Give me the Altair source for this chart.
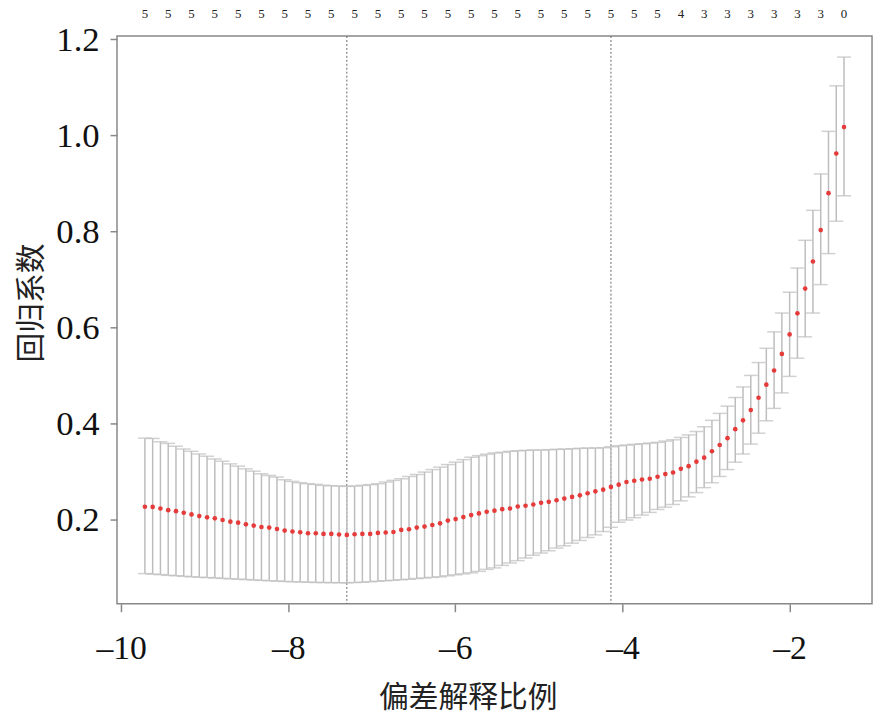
import altair as alt
import pandas as pd

# log(lambda) positions of the 91 fits
log_lambda = [
    -9.716, -9.623, -9.530, -9.437, -9.344, -9.251, -9.158, -9.065, -8.972, -8.879,
    -8.786, -8.693, -8.600, -8.507, -8.414, -8.321, -8.228, -8.135, -8.043, -7.950,
    -7.857, -7.764, -7.671, -7.578, -7.485, -7.392, -7.299, -7.206, -7.113, -7.020,
    -6.927, -6.834, -6.741, -6.648, -6.555, -6.462, -6.369, -6.276, -6.183, -6.090,
    -5.997, -5.904, -5.811, -5.718, -5.625, -5.532, -5.439, -5.346, -5.253, -5.160,
    -5.067, -4.974, -4.882, -4.789, -4.696, -4.603, -4.510, -4.417, -4.324, -4.231,
    -4.138, -4.045, -3.952, -3.859, -3.766, -3.673, -3.580, -3.487, -3.394, -3.301,
    -3.208, -3.115, -3.022, -2.929, -2.836, -2.743, -2.650, -2.557, -2.464, -2.371,
    -2.278, -2.185, -2.092, -1.999, -1.906, -1.813, -1.720, -1.627, -1.534, -1.441,
    -1.348,
]

mean_val = [
    0.2272, 0.2270, 0.2237, 0.2202, 0.2181, 0.2148, 0.2113, 0.2078, 0.2052, 0.2031,
    0.1996, 0.1963, 0.1942, 0.1907, 0.1880, 0.1852, 0.1839, 0.1810, 0.1777, 0.1757,
    0.1742, 0.1722, 0.1722, 0.1707, 0.1707, 0.1695, 0.1687, 0.1701, 0.1707, 0.1707,
    0.1728, 0.1736, 0.1748, 0.1790, 0.1804, 0.1839, 0.1860, 0.1893, 0.1928, 0.1984,
    0.2016, 0.2058, 0.2099, 0.2134, 0.2169, 0.2192, 0.2223, 0.2237, 0.2278, 0.2293,
    0.2320, 0.2355, 0.2375, 0.2408, 0.2443, 0.2478, 0.2511, 0.2553, 0.2594, 0.2629,
    0.2685, 0.2732, 0.2788, 0.2814, 0.2841, 0.2856, 0.2897, 0.2953, 0.2986, 0.3062,
    0.3118, 0.3212, 0.3295, 0.3427, 0.3557, 0.3701, 0.3887, 0.4072, 0.4285, 0.4542,
    0.4814, 0.5109, 0.5454, 0.5860, 0.6299, 0.6814, 0.7377, 0.8031, 0.8800, 0.9625,
    1.0175,
]

upper_val = [
    0.3701, 0.3695, 0.3625, 0.3592, 0.3530, 0.3474, 0.3427, 0.3371, 0.3324, 0.3268,
    0.3221, 0.3165, 0.3118, 0.3062, 0.3014, 0.2959, 0.2924, 0.2891, 0.2835, 0.2800,
    0.2773, 0.2753, 0.2738, 0.2718, 0.2711, 0.2705, 0.2697, 0.2705, 0.2718, 0.2732,
    0.2753, 0.2788, 0.2821, 0.2856, 0.2903, 0.2944, 0.2994, 0.3047, 0.3097, 0.3151,
    0.3200, 0.3254, 0.3303, 0.3336, 0.3367, 0.3392, 0.3406, 0.3427, 0.3439, 0.3447,
    0.3454, 0.3454, 0.3460, 0.3468, 0.3474, 0.3480, 0.3489, 0.3495, 0.3495, 0.3501,
    0.3522, 0.3542, 0.3557, 0.3571, 0.3584, 0.3598, 0.3612, 0.3639, 0.3666, 0.3715,
    0.3769, 0.3839, 0.3938, 0.4072, 0.4216, 0.4367, 0.4546, 0.4767, 0.5006, 0.5274,
    0.5571, 0.5913, 0.6305, 0.6738, 0.7241, 0.7819, 0.8443, 0.9200, 1.0087, 1.1035,
    1.1633,
]

lower_val = [
    0.0882, 0.0870, 0.0860, 0.0845, 0.0835, 0.0825, 0.0814, 0.0804, 0.0798, 0.0790,
    0.0781, 0.0773, 0.0765, 0.0757, 0.0748, 0.0740, 0.0732, 0.0726, 0.0718, 0.0711,
    0.0705, 0.0701, 0.0697, 0.0695, 0.0693, 0.0691, 0.0691, 0.0695, 0.0701, 0.0711,
    0.0722, 0.0732, 0.0742, 0.0753, 0.0763, 0.0779, 0.0790, 0.0802, 0.0814, 0.0835,
    0.0856, 0.0876, 0.0897, 0.0928, 0.0969, 0.1000, 0.1052, 0.1103, 0.1151, 0.1206,
    0.1262, 0.1309, 0.1357, 0.1412, 0.1460, 0.1515, 0.1571, 0.1633, 0.1687, 0.1757,
    0.1845, 0.1948, 0.1996, 0.2045, 0.2099, 0.2155, 0.2216, 0.2264, 0.2320, 0.2396,
    0.2478, 0.2567, 0.2670, 0.2773, 0.2903, 0.3047, 0.3200, 0.3371, 0.3577, 0.3804,
    0.4062, 0.4320, 0.4643, 0.4986, 0.5365, 0.5810, 0.6305, 0.6897, 0.7542, 0.8216,
    0.8746,
]

# number of non-zero coefficients, shown at every third fit
nonzero_counts = [5] * 23 + [4] + [3] * 6 + [0]

# lambda.min and lambda.1se
vlines = [-7.299, -4.138]

x_ticks = [-10, -8, -6, -4, -2]
y_ticks = [0.2, 0.4, 0.6, 0.8, 1.0, 1.2]

df = pd.DataFrame({"x": log_lambda, "m": mean_val, "lo": lower_val, "hi": upper_val})
df_top = pd.DataFrame({"x": log_lambda[::3], "n": [str(v) for v in nonzero_counts]})
df_v = pd.DataFrame({"x": vlines})

SERIF = "Liberation Serif"
CJK = "Noto Sans CJK SC"
GRAY = "#bdbdbd"

xs = alt.Scale(domain=[-10.05, -1.013], nice=False, zero=False)
ys = alt.Scale(domain=[0.0253, 1.2071], nice=False, zero=False)

x_axis = alt.Axis(
    values=x_ticks, title="偏差解释比例", grid=False, domain=False, format="d",
    tickSize=8, tickColor="#888888", tickWidth=1.5,
    labelFont=SERIF, labelFontSize=34, labelColor="#111111", labelPadding=20,
    labelExpr="replace(datum.label, '−', '–')",
    titleFont=CJK, titleFontSize=30, titleFontWeight="normal", titleColor="#222222",
    titleX=354, titleY=95, titleBaseline="middle", titleAlign="center",
)
y_axis = alt.Axis(
    values=y_ticks, title="回归系数", grid=False, domain=False, format=".1f",
    tickSize=7, tickColor="#888888", tickWidth=1.5,
    labelFont=SERIF, labelFontSize=35, labelColor="#111111", labelPadding=11,
    labelBaseline="middle",
    titleFont=CJK, titleFontSize=30, titleFontWeight="normal", titleColor="#222222",
    titleX=-86, titleY=269, titleBaseline="middle", titleAlign="center",
)

base = alt.Chart(df)

bars = base.mark_rule(color=GRAY, strokeWidth=1.5).encode(
    x=alt.X("x:Q", scale=xs, axis=x_axis),
    y=alt.Y("lo:Q", scale=ys, axis=y_axis),
    y2="hi:Q",
)
cap_hi = base.mark_tick(color=GRAY, orient="horizontal", size=14, thickness=1.5).encode(
    x=alt.X("x:Q", scale=xs), y=alt.Y("hi:Q", scale=ys)
)
cap_lo = base.mark_tick(color=GRAY, orient="horizontal", size=14, thickness=1.5).encode(
    x=alt.X("x:Q", scale=xs), y=alt.Y("lo:Q", scale=ys)
)
dots = base.mark_circle(color="#e63b3b", size=22, opacity=1).encode(
    x=alt.X("x:Q", scale=xs), y=alt.Y("m:Q", scale=ys)
)
vrules = alt.Chart(df_v).mark_rule(color="#666666", strokeWidth=1, strokeDash=[2, 2]).encode(
    x=alt.X("x:Q", scale=xs)
)
top = alt.Chart(df_top).mark_text(
    font=SERIF, fontSize=13, color="#222222", baseline="middle", align="center"
).encode(
    x=alt.X("x:Q", scale=xs), y=alt.value(-22), text="n:N"
)

chart = alt.layer(vrules, bars, cap_hi, cap_lo, dots, top).properties(
    width=762, height=573,
    autosize=alt.AutoSizeParams(type="none"),
    padding={"left": 110, "top": 25, "right": 2, "bottom": 113},
).configure_view(stroke="#888888", strokeWidth=1.5)

chart.save("out.html", embed_options={"renderer": "svg", "actions": False})
